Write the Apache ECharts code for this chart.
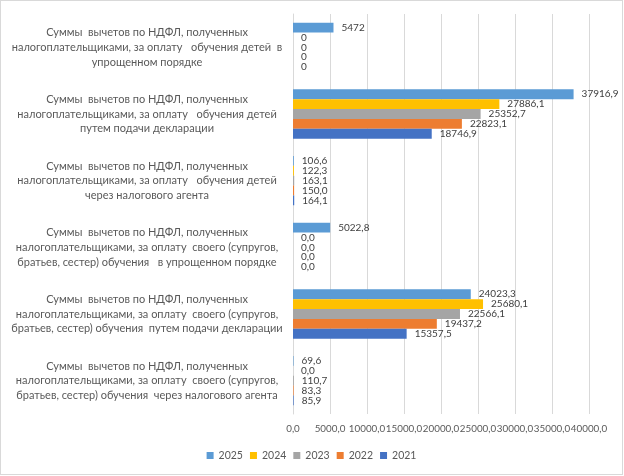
<!DOCTYPE html>
<html>
<head>
<meta charset="utf-8">
<script src="https://cdn.jsdelivr.net/npm/echarts@6/dist/echarts.min.js"></script>
<style>
html,body{margin:0;padding:0;background:#fff;}
#chart{position:absolute;left:0;top:0;width:621px;height:473px;border:1px solid #d9d9d9;}
</style>
</head>
<body>
<div id="chart"></div>
<script>
// categories, top to bottom
var categories=[
  "Суммы  вычетов по НДФЛ, полученных\nналогоплательщиками, за оплату   обучения детей  в\nупрощенном порядке",
  "Суммы  вычетов по НДФЛ, полученных\nналогоплательщиками, за оплату   обучения детей\nпутем подачи декларации",
  "Суммы  вычетов по НДФЛ, полученных\nналогоплательщиками, за оплату   обучения детей\nчерез налогового агента",
  "Суммы  вычетов по НДФЛ, полученных\nналогоплательщиками, за оплату  своего (супругов,\nбратьев, сестер) обучения   в упрощенном порядке",
  "Суммы  вычетов по НДФЛ, полученных\nналогоплательщиками, за оплату  своего (супругов,\nбратьев, сестер) обучения  путем подачи декларации",
  "Суммы  вычетов по НДФЛ, полученных\nналогоплательщиками, за оплату  своего (супругов,\nбратьев, сестер) обучения  через налогового агента"
];
// decimals shown in the data labels for each category
var labelDecimals=[0,1,1,1,1,1];

var years=["2025","2024","2023","2022","2021"];
var v2025=[5472,37916.9,106.6,5022.8,24023.3,69.6];
var v2024=[0,27886.1,122.3,0,25680.1,0];
var v2023=[0,25352.7,163.1,0,22566.1,110.7];
var v2022=[0,22823.1,150.0,0,19437.2,83.3];
var v2021=[0,18746.9,164.1,0,15357.5,85.9];
var yearValues=[v2025,v2024,v2023,v2022,v2021];
var colors=["#5B9BD5","#FFC000","#A5A5A5","#ED7D31","#4472C4"];

var xMin=0, xMax=40000, xStep=5000;

var font="Lato";

function fmt(v,d){
  return v.toFixed(d).replace(".",",");
}

var chart=echarts.init(document.getElementById("chart"));

var series=years.map(function(y,i){
  return {
    name:y,
    type:"bar",
    data:yearValues[i],
    barGap:"0%",
    barCategoryGap:"26%",
    itemStyle:{color:colors[i]},
    label:{
      show:true,
      position:"right",
      distance:8,
      color:"#404040",
      fontFamily:font,
      fontSize:10,
      formatter:function(p){return fmt(p.value,labelDecimals[p.dataIndex]);}
    }
  };
});

chart.setOption({
  animation:false,
  textStyle:{fontFamily:font},
  grid:{left:292,right:33,top:13,bottom:60,containLabel:false},
  legend:{
    data:years,
    left:"center",
    top:444,
    icon:"rect",
    itemWidth:7,
    itemHeight:7,
    itemGap:7,
    textStyle:{color:"#595959",fontFamily:font,fontSize:10.5}
  },
  xAxis:{
    type:"value",
    min:xMin,
    max:xMax,
    interval:xStep,
    axisLine:{show:false},
    axisTick:{show:false},
    splitLine:{lineStyle:{color:"#d9d9d9"}},
    axisLabel:{
      color:"#595959",
      fontFamily:font,
      fontSize:9.8,
      margin:10,
      showMinLabel:true,
      showMaxLabel:true,
      hideOverlap:false,
      formatter:function(v){return fmt(v,1);}
    }
  },
  yAxis:{
    type:"category",
    inverse:true,
    data:categories,
    axisLine:{show:true,lineStyle:{color:"#d9d9d9"}},
    axisTick:{show:false},
    axisLabel:{
      color:"#595959",
      fontFamily:font,
      fontSize:11,
      lineHeight:14.7,
      align:"center",
      margin:146
    }
  },
  series:series
});
</script>
</body>
</html>
